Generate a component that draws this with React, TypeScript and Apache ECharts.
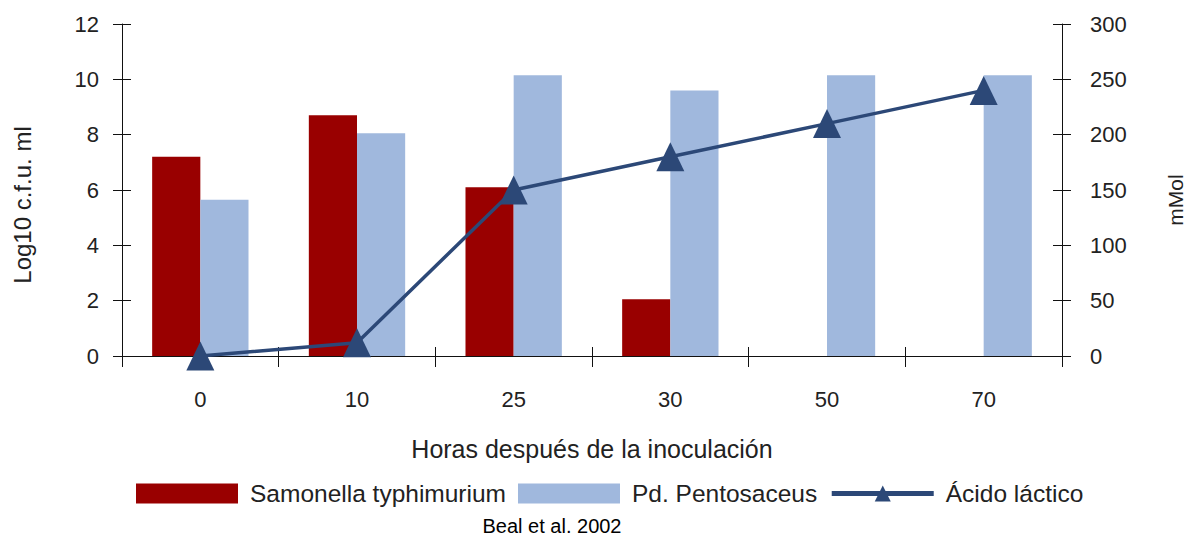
import React, { useEffect, useRef } from "react";
import * as echarts from "echarts";

const categories = ["0", "10", "25", "30", "50", "70"];
const salmonella = [7.2, 8.7, 6.1, 2.05, 0, 0];
const pediococcus = [5.65, 8.05, 10.15, 9.6, 10.15, 10.15];
const lactic = [0, 12, 150, 180, 210, 240];

const FONT = "'Liberation Sans', Arial, sans-serif";
const TXT = "#222";

export default function App() {
  const ref = useRef<HTMLDivElement>(null);
  useEffect(() => {
    if (!ref.current) return;
    const chart = echarts.init(ref.current, null, { renderer: "svg" });
    const axisLine = { show: true, lineStyle: { color: "#111", width: 1 } };
    const tickStyle = { color: "#111", width: 1 };
    const centered = {
      align: "center",
      verticalAlign: "middle",
      textAlign: "center",
      textVerticalAlign: "middle",
    };
    chart.setOption({
      animation: false,
      textStyle: { fontFamily: FONT },
      grid: { left: 122, right: 127, top: 24, bottom: 184, outerBoundsMode: "none", containLabel: false },
      legend: {
        left: 131,
        top: 476,
        itemGap: 12,
        itemWidth: 102,
        itemHeight: 20,
        textStyle: { fontSize: 24.5, color: TXT, fontFamily: FONT, padding: [0, 0, 0, 7] },
        data: [
          { name: "Samonella typhimurium", icon: "rect" },
          { name: "Pd. Pentosaceus", icon: "rect" },
          { name: "Ácido láctico", lineStyle: { width: 5, color: "#2C4877" } },
        ],
      },
      graphic: [
        {
          type: "text",
          x: 552,
          y: 526,
          style: { text: "Beal et al. 2002", fontSize: 20, fill: "#000", fontFamily: FONT, ...centered },
        },
        {
          type: "text",
          x: 22,
          y: 205,
          rotation: Math.PI / 2,
          style: { text: "Log10 c.f.u. ml", fontSize: 24, fill: TXT, fontFamily: FONT, ...centered },
        },
        {
          type: "text",
          x: 1175,
          y: 200,
          rotation: Math.PI / 2,
          style: { text: "mMol", fontSize: 21, fill: TXT, fontFamily: FONT, ...centered },
        },
      ],
      xAxis: [
        {
          type: "category",
          data: categories,
          position: "bottom",
          axisLine,
          axisTick: { show: true, length: 11, lineStyle: tickStyle },
          axisLabel: { fontSize: 22, color: TXT, margin: 32, fontFamily: FONT },
          name: "Horas después de la inoculación",
          nameLocation: "middle",
          nameGap: 80,
          nameTextStyle: { fontSize: 25, color: TXT, fontFamily: FONT },
        },
        {
          type: "category",
          data: categories,
          position: "bottom",
          axisLine: { show: false },
          axisTick: { show: true, inside: true, length: 9, lineStyle: tickStyle },
          axisLabel: { show: false },
        },
      ],
      yAxis: [
        {
          type: "value",
          min: 0,
          max: 12,
          interval: 2,
          position: "left",
          axisLine,
          axisTick: { show: true, length: 9, lineStyle: tickStyle },
          axisLabel: { fontSize: 22, color: TXT, margin: 23, fontFamily: FONT },
          splitLine: { show: false },
        },
        {
          type: "value",
          min: 0,
          max: 300,
          interval: 50,
          position: "right",
          axisLine,
          axisTick: { show: true, length: 9, lineStyle: tickStyle },
          axisLabel: { fontSize: 22, color: TXT, margin: 28, fontFamily: FONT },
          splitLine: { show: false },
        },
        {
          type: "value",
          min: 0,
          max: 12,
          interval: 2,
          position: "left",
          axisLine: { show: false },
          axisTick: { show: true, inside: true, length: 9, lineStyle: tickStyle },
          axisLabel: { show: false },
          splitLine: { show: false },
        },
        {
          type: "value",
          min: 0,
          max: 300,
          interval: 50,
          position: "right",
          axisLine: { show: false },
          axisTick: { show: true, inside: true, length: 9, lineStyle: tickStyle },
          axisLabel: { show: false },
          splitLine: { show: false },
        },
      ],
      series: [
        {
          name: "Samonella typhimurium",
          type: "bar",
          data: salmonella,
          xAxisIndex: 0,
          yAxisIndex: 0,
          barGap: "0%",
          barCategoryGap: "38.5%",
          itemStyle: { color: "#990000" },
        },
        {
          name: "Pd. Pentosaceus",
          type: "bar",
          data: pediococcus,
          xAxisIndex: 0,
          yAxisIndex: 0,
          barGap: "0%",
          barCategoryGap: "38.5%",
          itemStyle: { color: "#A0B8DD" },
        },
        {
          name: "Ácido láctico",
          type: "line",
          data: lactic,
          xAxisIndex: 0,
          yAxisIndex: 1,
          symbol: "triangle",
          symbolSize: [28, 29],
          clip: false,
          lineStyle: { color: "#2C4877", width: 3.5 },
          itemStyle: { color: "#2C4877" },
          z: 5,
        },
      ],
    });
    return () => chart.dispose();
  }, []);
  return (
    <div
      ref={ref}
      style={{ position: "absolute", left: 0, top: 0, width: 1189, height: 540 }}
    />
  );
}
